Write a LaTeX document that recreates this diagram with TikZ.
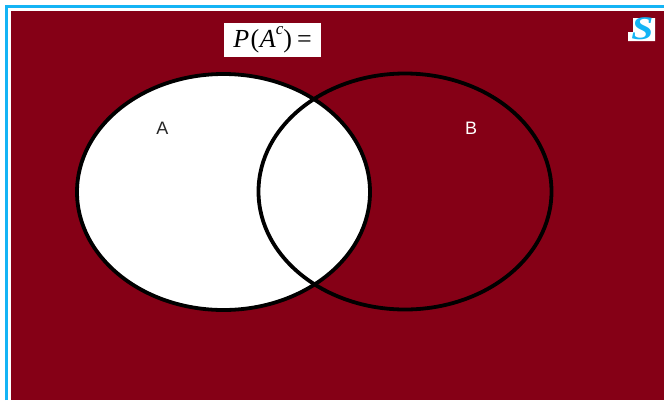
\documentclass[tikz,border=0pt]{standalone}
\usepackage{fontspec}
\newfontfamily\labelfont{Liberation Sans}
\newfontfamily\titlefont{Liberation Serif}
\usetikzlibrary{shapes.geometric}
\definecolor{wine}{RGB}{133,0,22}
\definecolor{frame}{RGB}{20,180,245}
\tikzset{
  setcircle/.style={ellipse,minimum width=293pt,minimum height=236pt,inner sep=0pt,line width=3.8pt,draw=black},
  setlabel/.style={font=\labelfont\fontsize{18}{18}\selectfont,inner sep=0pt}
}
\begin{document}
\begin{tikzpicture}[x=1pt,y=-1pt]
\useasboundingbox (0,0) rectangle (664,400);
\fill[white] (0,0) rectangle (664,400);
\draw[frame,line width=2.6pt] (6.5,400) -- (6.5,6.5) -- (664,6.5);
\fill[wine] (11,10.5) rectangle (664,400);
\node[setcircle,fill=white] (A) at (223.5,192) {};
\node[setcircle] (B) at (405,191.5) {};
\node[setlabel,text=black!85] (la) at (162.5,128) {A};
\node[setlabel,text=white] (lb) at (471,128) {B};
\node[fill=white,minimum width=97pt,minimum height=34pt,inner sep=0pt,font=\titlefont\fontsize{26}{26}\selectfont] (t) at (272.5,40) {\textit{P}\kern1.5pt(\kern0.5pt\textit{A}\raisebox{1.1ex}{\fontsize{17}{17}\selectfont\textit{c}})\kern5pt=};
\fill[white] (633,18) rectangle (655,41) (628,32) rectangle (655,41);
\node[inner sep=0pt,text=frame,xscale=1.2,font=\titlefont\fontsize{33}{33}\selectfont\itshape\bfseries] (s) at (642.5,29) {S};
\end{tikzpicture}
\end{document}
